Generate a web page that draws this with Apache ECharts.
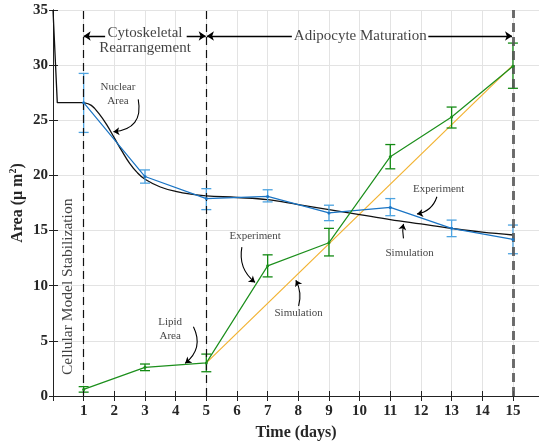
<!DOCTYPE html>
<html>
<head>
<meta charset="utf-8">
<script src="https://cdn.jsdelivr.net/npm/echarts@6/dist/echarts.min.js"></script>
<style>
  html, body { margin: 0; padding: 0; background: #fff; }
  #main { width: 539px; height: 447px; }
</style>
</head>
<body>
<div id="main"></div>
<script>
// measured days
var days = [1, 3, 5, 7, 9, 11, 13, 15];

// nuclear area, experiment (mean, low, high)
var nuclearExp = [26.6, 19.9, 17.9, 18.1, 16.6, 17.1, 15.2, 14.2];
var nuclearLo = [23.9, 19.3, 16.9, 17.6, 15.9, 16.35, 14.45, 12.9];
var nuclearHi = [29.25, 20.5, 18.8, 18.7, 17.3, 17.9, 15.95, 15.5];

// lipid area, experiment (mean, low, high)
var lipidExp = [0.6, 2.6, 3.0, 11.8, 13.9, 21.7, 25.3, 29.9];
var lipidLo = [0.35, 2.3, 2.2, 10.8, 12.7, 20.6, 24.3, 27.9];
var lipidHi = [0.85, 2.9, 3.8, 12.8, 15.2, 22.8, 26.2, 32.0];

// nuclear area, simulation: initial drop, then smooth decay
var nuclearStartT = [0, 0.14, 1];
var nuclearStart = [35, 26.6, 26.6];
var nuclearSimT = [1, 1.25, 1.5, 1.75, 2, 2.25, 2.5, 2.75, 3, 3.5, 4, 4.5, 5, 6, 7, 8, 9, 10, 11, 12, 13, 14, 15];
var nuclearSim = [26.6, 26.35, 25.6, 24.6, 23.4, 22.2, 21.1, 20.25, 19.65, 18.95, 18.55, 18.3, 18.15, 18.0, 17.8, 17.35, 16.9, 16.45, 16.0, 15.6, 15.2, 14.85, 14.6];

// lipid area, simulation
var lipidSimT = [5, 15];
var lipidSim = [3.0, 30.0];

// phase boundaries
var phaseLines = [1, 5];
var endLine = 15;

// annotation texts [x, y, text]
var notes = [
  [2.12, 27.4, 'Nuclear\nArea'],
  [3.82, 6.1, 'Lipid\nArea'],
  [6.59, 14.5, 'Experiment'],
  [8.01, 7.55, 'Simulation'],
  [12.58, 18.8, 'Experiment'],
  [11.63, 13.0, 'Simulation']
];
// annotation arrows [from, to, curveness]
var noteArrows = [
  [[2.78, 26.9], [1.97, 23.96], 0.55],
  [[4.58, 6.28], [4.31, 2.96], 0.4],
  [[6.16, 13.5], [6.59, 10.3], -0.3],
  [[8.01, 8.16], [7.92, 10.5], -0.2],
  [[12.52, 18.07], [11.87, 16.5], 0.3],
  [[11.43, 14.3], [11.43, 15.6], 0.1]
];

// phase headers
var phaseY = 32.64;
var phaseNotes = [
  [3, 32.27, 'Cytoskeletal\nRearrangement'],
  [10.02, 32.64, 'Adipocyte Maturation']
];
var phaseArrows = [
  [[1.7, phaseY], [1.0, phaseY]],
  [[4.36, phaseY], [4.98, phaseY]],
  [[7.79, phaseY], [5.02, phaseY]],
  [[12.24, phaseY], [14.97, phaseY]]
];

var serif = 'Liberation Serif';

function zip(a, b) {
  return a.map(function (v, i) { return [v, b[i]]; });
}
function bars(lo, hi) {
  return days.map(function (d, i) { return [d, lo[i], hi[i]]; });
}
function errorBar(color) {
  return function (params, api) {
    var x = api.value(0);
    var p1 = api.coord([x, api.value(1)]);
    var p2 = api.coord([x, api.value(2)]);
    var w = 5;
    var st = { stroke: color, lineWidth: 1.3 };
    return {
      type: 'group',
      children: [
        { type: 'line', shape: { x1: p1[0], y1: p1[1], x2: p2[0], y2: p2[1] }, style: st },
        { type: 'line', shape: { x1: p1[0] - w, y1: p1[1], x2: p1[0] + w, y2: p1[1] }, style: st },
        { type: 'line', shape: { x1: p2[0] - w, y1: p2[1], x2: p2[0] + w, y2: p2[1] }, style: st }
      ]
    };
  };
}

var chart = echarts.init(document.getElementById('main'));

var tickLabel = { fontFamily: serif, fontWeight: 'bold', fontSize: 15, color: '#262626' };

chart.setOption({
  animation: false,
  grid: { left: 53, right: 0, top: 10, bottom: 51, containLabel: false, outerBoundsMode: 'none' },
  xAxis: [{
    type: 'value', min: 0, max: 15.85, interval: 1,
    axisLine: { lineStyle: { color: '#222', width: 1 } },
    axisTick: { inside: true, length: 5, lineStyle: { color: '#222' } },
    axisLabel: Object.assign({ margin: 8, showMaxLabel: false, formatter: function (v) { return v === 0 ? '' : v; } }, tickLabel),
    splitLine: { show: true, lineStyle: { color: '#e3e3e3' } },
    name: 'Time (days)', nameLocation: 'middle', nameGap: 29, nameMoveOverlap: false,
    nameTextStyle: { fontFamily: serif, fontWeight: 'bold', fontSize: 16, color: '#262626' }
  }, {
    type: 'value', min: 0, max: 15.85, interval: 1, position: 'top',
    axisLine: { lineStyle: { color: '#222' } },
    axisTick: { inside: true, length: 5, lineStyle: { color: '#222' } },
    axisLabel: { show: false }, splitLine: { show: false }
  }],
  yAxis: [{
    type: 'value', min: 0, max: 35, interval: 5,
    axisLine: { show: true, lineStyle: { color: '#222' } },
    axisTick: { show: true, inside: true, length: 5, lineStyle: { color: '#222' } },
    axisLabel: Object.assign({ margin: 5 }, tickLabel),
    splitLine: { show: true, lineStyle: { color: '#e3e3e3' } },
    name: 'Area ({a|\u03bc m}{s|2})', nameLocation: 'middle', nameGap: 26, nameMoveOverlap: false,
    nameTextStyle: {
      fontFamily: serif, fontWeight: 'bold', fontSize: 16, color: '#262626',
      rich: {
        a: { fontFamily: serif, fontWeight: 'bold', fontSize: 16, color: '#262626' },
        s: { fontFamily: serif, fontWeight: 'bold', fontSize: 10, color: '#262626', padding: [0, 0, 9, 0] }
      }
    }
  }, {
    type: 'value', min: 0, max: 35, interval: 5, position: 'right',
    axisLine: { show: true, lineStyle: { color: '#222' } },
    axisTick: { show: true, inside: true, length: 4, lineStyle: { color: '#222' } },
    axisLabel: { show: false }, splitLine: { show: false }
  }],
  series: [
    {
      type: 'line', data: zip(lipidSimT, lipidSim), symbol: 'none',
      lineStyle: { color: '#f2b230', width: 1.2 }, z: 3
    },
    {
      type: 'line', data: zip(nuclearStartT, nuclearStart), symbol: 'none',
      lineStyle: { color: '#111', width: 1.3 }, z: 3
    },
    {
      type: 'line', data: zip(nuclearSimT, nuclearSim), symbol: 'none',
      smooth: 0.4,
      lineStyle: { color: '#111', width: 1.3 }, z: 3
    },
    {
      type: 'custom', data: bars(nuclearLo, nuclearHi), renderItem: errorBar('#4da3e0'), z: 4
    },
    {
      type: 'line', data: zip(days, nuclearExp), symbol: 'circle', symbolSize: 3,
      itemStyle: { color: '#1a74c4' }, lineStyle: { color: '#1a74c4', width: 1.2 }, z: 5
    },
    {
      type: 'custom', data: bars(lipidLo, lipidHi), renderItem: errorBar('#138a13'), z: 4
    },
    {
      type: 'line', data: zip(days, lipidExp), symbol: 'circle', symbolSize: 3,
      itemStyle: { color: '#1c8f1c' }, lineStyle: { color: '#1c8f1c', width: 1.2 }, z: 5
    },
    {
      type: 'lines', coordinateSystem: 'cartesian2d', z: 6,
      symbol: ['none', 'arrow'], symbolSize: 6,
      lineStyle: { color: '#000', width: 1.1, opacity: 1 },
      data: noteArrows.map(function (a) {
        return { coords: [a[0], a[1]], lineStyle: { curveness: a[2] } };
      })
    },
    {
      type: 'lines', coordinateSystem: 'cartesian2d', z: 6,
      symbol: ['none', 'arrow'], symbolSize: 7,
      lineStyle: { color: '#000', width: 1.4, opacity: 1 },
      data: phaseArrows.map(function (a) { return { coords: a }; })
    },
    {
      type: 'scatter', symbolSize: 0, z: 7,
      label: { show: true, position: 'inside', formatter: '{b}', fontFamily: serif, fontSize: 11, lineHeight: 14, color: '#111' },
      data: notes.map(function (n) { return { value: [n[0], n[1]], name: n[2] }; })
    },
    {
      type: 'scatter', symbolSize: 0, z: 7,
      label: { show: true, position: 'inside', formatter: '{b}', fontFamily: serif, fontSize: 15, lineHeight: 15, color: '#111' },
      data: phaseNotes.map(function (n) { return { value: [n[0], n[1]], name: n[2] }; })
    },
    {
      type: 'scatter', symbolSize: 0, z: 7,
      label: { show: true, position: 'inside', rotate: 90, formatter: '{b}', fontFamily: serif, fontSize: 15.5, color: '#111' },
      data: [{ value: [0.5, 9.9], name: 'Cellular Model Stabilization' }]
    },
    {
      type: 'line', data: [], z: 8, silent: true,
      markLine: {
        symbol: 'none', silent: true, label: { show: false },
        data: phaseLines.map(function (x) {
          return { xAxis: x, lineStyle: { color: '#111', width: 1.2, type: [8, 5] } };
        }).concat([{ xAxis: endLine, lineStyle: { color: 'rgba(85,85,85,0.85)', width: 3, type: [9, 5] } }])
      }
    }
  ]
});
</script>
</body>
</html>
